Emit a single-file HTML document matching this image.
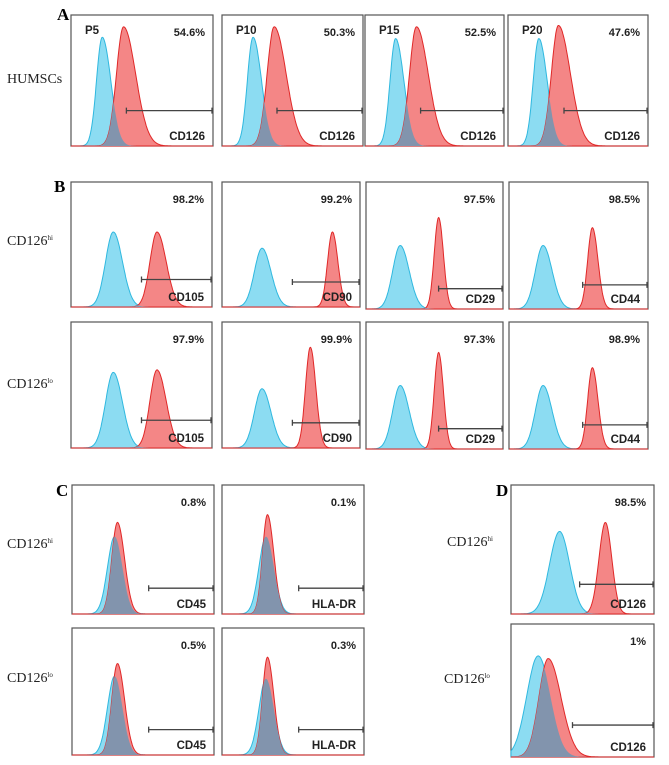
<!DOCTYPE html>
<html><head><meta charset="utf-8">
<style>
html,body{margin:0;padding:0;background:#fff;}
body{width:669px;height:765px;overflow:hidden;position:relative;}
svg{position:absolute;left:0;top:0;}
.pl{font-family:"Liberation Serif",serif;font-weight:bold;font-size:17px;}
.rl{font-family:"Liberation Serif",serif;font-size:14px;fill:#222;}
.sup{font-size:7px;}
.pct{font-family:"Liberation Sans",sans-serif;font-weight:bold;font-size:11px;fill:#222;}
.mk{font-family:"Liberation Sans",sans-serif;font-weight:bold;font-size:11.5px;fill:#222;}
</style></head><body>
<svg id="fig" width="669" height="765" viewBox="0 0 669 765">
<text class="pl" x="57" y="20">A</text>
<text class="pl" x="54" y="192">B</text>
<text class="pl" x="56" y="496">C</text>
<text class="pl" x="496" y="496">D</text>
<text class="rl" x="7" y="83">HUMSCs</text>
<text class="rl" x="7" y="245">CD126<tspan class="sup" dy="-5">hi</tspan></text>
<text class="rl" x="7" y="388">CD126<tspan class="sup" dy="-5">lo</tspan></text>
<text class="rl" x="7" y="548">CD126<tspan class="sup" dy="-5">hi</tspan></text>
<text class="rl" x="7" y="682">CD126<tspan class="sup" dy="-5">lo</tspan></text>
<text class="rl" x="447" y="546">CD126<tspan class="sup" dy="-5">hi</tspan></text>
<text class="rl" x="444" y="683">CD126<tspan class="sup" dy="-5">lo</tspan></text>
<g id="panels"></g>
</svg>
<script>
// panel data
const markers = ["CD126","CD126","CD126","CD126","CD105","CD90","CD29","CD44","CD105","CD90","CD29","CD44","CD45","HLA-DR","CD45","HLA-DR","CD126","CD126"];
const passages = ["P5","P10","P15","P20","","","","","","","","","","","","","",""];
const percents = ["54.6%","50.3%","52.5%","47.6%","98.2%","99.2%","97.5%","98.5%","97.9%","99.9%","97.3%","98.9%","0.8%","0.1%","0.5%","0.3%","98.5%","1%"];
// isotype (blue) peak: center, left sd, right sd, height (fractions of axis)
const blueCenter = [0.22,0.22,0.22,0.22, 0.30,0.29,0.25,0.245, 0.30,0.29,0.25,0.245, 0.30,0.31,0.30,0.31, 0.34,0.19];
const blueSdL    = [0.04,0.04,0.04,0.04, 0.055,0.055,0.055,0.055, 0.055,0.055,0.055,0.055, 0.05,0.05,0.05,0.05, 0.07,0.08];
const blueSdR    = [0.06,0.06,0.06,0.06, 0.065,0.065,0.065,0.065, 0.065,0.065,0.065,0.065, 0.055,0.055,0.055,0.055, 0.07,0.085];
const blueHeight = [0.83,0.83,0.82,0.82, 0.60,0.47,0.50,0.50, 0.60,0.47,0.50,0.50, 0.60,0.60,0.62,0.60, 0.64,0.76];
// stained (red) peak
const redCenter = [0.37,0.37,0.37,0.36, 0.61,0.80,0.53,0.60, 0.61,0.64,0.53,0.60, 0.32,0.32,0.32,0.32, 0.66,0.26];
const redSdL    = [0.05,0.05,0.05,0.05, 0.05,0.035,0.032,0.034, 0.05,0.035,0.032,0.034, 0.04,0.035,0.04,0.035, 0.045,0.065];
const redSdR    = [0.085,0.085,0.085,0.085, 0.065,0.04,0.035,0.04, 0.065,0.04,0.035,0.04, 0.05,0.045,0.05,0.045, 0.045,0.09];
const redHeight = [0.91,0.91,0.91,0.92, 0.60,0.60,0.72,0.64, 0.62,0.80,0.76,0.64, 0.71,0.77,0.72,0.77, 0.71,0.74];
// gates: start fraction, height fraction from top
const gateStart = [0.39,0.39,0.40,0.40, 0.50,0.51,0.53,0.53, 0.50,0.51,0.53,0.53, 0.54,0.54,0.54,0.54, 0.48,0.43];
const gateY     = [0.73,0.73,0.73,0.73, 0.78,0.80,0.84,0.81, 0.78,0.80,0.84,0.81, 0.80,0.80,0.80,0.80, 0.77,0.76];

// layout (not data)
const boxes = [
 [71,15,142,131],[222,15,141,131],[365,15,139,131],[508,15,140,131],
 [71,182,141,125],[222,182,138,125],[366,182,137,127],[509,182,139,127],
 [71,322,141,126],[222,322,138,126],[366,322,137,127],[509,322,139,127],
 [72,485,142,129],[222,485,142,129],[72,628,142,127],[222,628,142,127],
 [511,485,143,129],[511,624,143,133]];

const NS="http://www.w3.org/2000/svg";
const G=document.getElementById('panels');
function mk(t,a){const e=document.createElementNS(NS,t);for(const k in a)e.setAttribute(k,a[k]);return e;}
function dens(x,c,sl,sr){const s=x<c?sl:sr;return Math.exp(-0.5*((x-c)/s)**2);}
function curve(bx,f){
  const [x0,y0,w,hh]=bx;const xs=v=>x0+v*w, ys=v=>y0+hh-v*hh;
  let d=`M${xs(0)},${ys(0)}`;
  for(let i=0;i<=240;i++){const v=i/240;d+=` L${xs(v).toFixed(1)},${ys(f(v)).toFixed(1)}`;}
  return d+` L${xs(1)},${ys(0)} Z`;
}
boxes.forEach((bx,i)=>{
  const [x0,y0,w,h]=bx;
  const fb=v=>blueHeight[i]*dens(v,blueCenter[i],blueSdL[i],blueSdR[i]);
  const fr=v=>redHeight[i]*dens(v,redCenter[i],redSdL[i],redSdR[i]);
  const g=mk('g',{});
  
  
  const frame=mk('rect',{x:x0,y:y0,width:w,height:h,fill:'#fff',stroke:'#555','stroke-width':1.2});
  
  
  g.appendChild(frame);
  const blue=mk('path',{d:curve(bx,fb),fill:'#8cdcf2',stroke:'#2fb8df','stroke-width':1});
  
  
  g.appendChild(blue);
  const red=mk('path',{d:curve(bx,fr),fill:'#f48686',stroke:'#e02828','stroke-width':1});
  
  
  g.appendChild(red);
  const ov=mk('path',{d:curve(bx,v=>Math.min(fb(v),fr(v))),fill:'#8294ad',stroke:'none'});
  
  
  g.appendChild(ov);
  const gy=y0+gateY[i]*h, gx=x0+gateStart[i]*w;
  const gate=mk('path',{d:`M${gx},${gy}H${x0+w} M${gx},${gy-3}V${gy+3} M${x0+w-1},${gy-3}V${gy+3}`,stroke:'#444','stroke-width':1.3,fill:'none'});
  
  
  g.appendChild(gate);
  const p=mk('text',{class:'pct',x:x0+w-8,y:y0+21,'text-anchor':'end'});p.textContent=percents[i];
  
  
  g.appendChild(p);
  const m=mk('text',{class:'mk',x:x0+w-8,y:y0+h-6,'text-anchor':'end'});m.textContent=markers[i];
  
  
  g.appendChild(m);
  if(passages[i]){const t=mk('text',{class:'mk',x:x0+14,y:y0+19});t.textContent=passages[i];
    
    
    g.appendChild(t);}
  G.appendChild(g);
});
</script>
</body></html>
